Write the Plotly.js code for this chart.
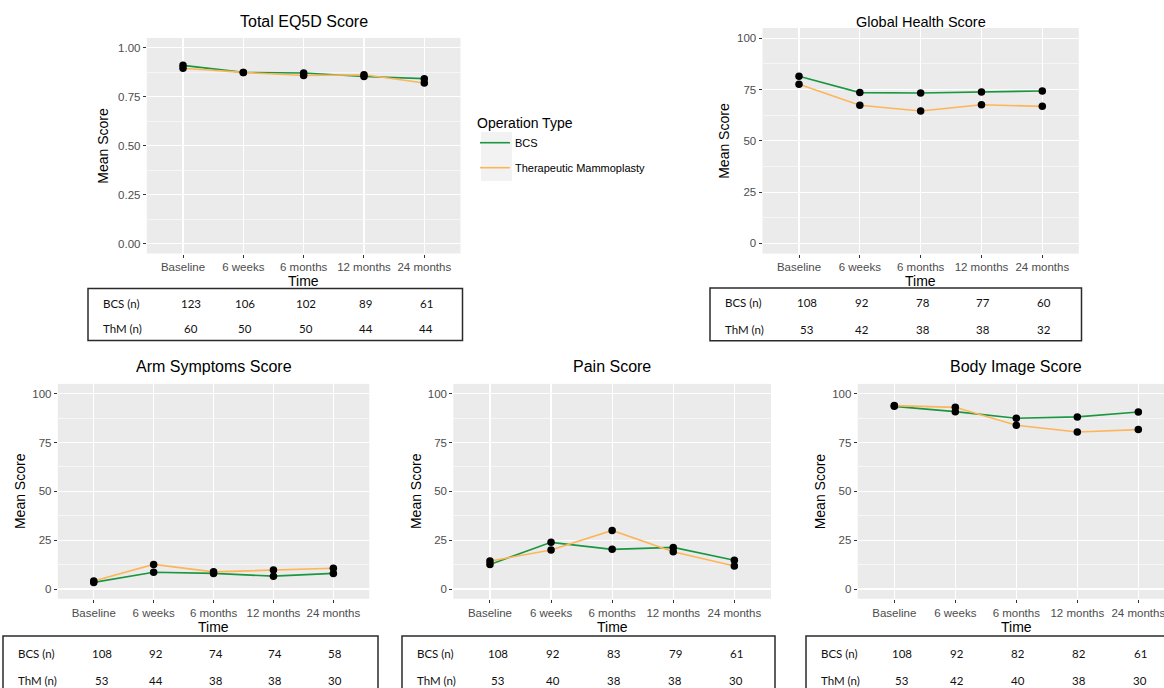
<!DOCTYPE html>
<html>
<head>
<meta charset="utf-8">
<script src="https://cdn.plot.ly/plotly-3.0.1.min.js"></script>
<style>
  html, body { margin: 0; padding: 0; background: #fff; overflow: hidden; }
  #chart { width: 1164px; height: 688px; }
</style>
</head>
<body>
<div id="chart"></div>
<script>
// ---------------- DATA ----------------
const categories = ['Baseline', '6 weeks', '6 months', '12 months', '24 months'];
const seriesNames = ['BCS', 'Therapeutic Mammoplasty'];
const rowLabels = ['BCS (n)', 'ThM (n)'];
const panelTitles = ['Total EQ5D Score', 'Global Health Score', 'Arm Symptoms Score', 'Pain Score', 'Body Image Score'];

const eq5dBCS = [0.910, 0.874, 0.871, 0.853, 0.842];
const eq5dThM = [0.895, 0.874, 0.858, 0.862, 0.820];
const globalBCS = [81.5, 73.5, 73.3, 73.8, 74.3];
const globalThM = [77.6, 67.3, 64.5, 67.6, 66.8];
const armBCS = [3.4, 8.6, 8.0, 6.6, 8.0];
const armThM = [4.1, 12.6, 8.8, 9.7, 10.6];
const painBCS = [12.6, 23.9, 20.3, 21.3, 14.7];
const painThM = [14.3, 20.0, 30.0, 19.1, 11.8];
const bodyBCS = [93.5, 90.8, 87.4, 88.1, 90.6];
const bodyThM = [93.9, 93.0, 83.8, 80.4, 81.6];

const eq5dN_BCS = [123, 106, 102, 89, 61];
const eq5dN_ThM = [60, 50, 50, 44, 44];
const globalN_BCS = [108, 92, 78, 77, 60];
const globalN_ThM = [53, 42, 38, 38, 32];
const armN_BCS = [108, 92, 74, 74, 58];
const armN_ThM = [53, 44, 38, 38, 30];
const painN_BCS = [108, 92, 83, 79, 61];
const painN_ThM = [53, 40, 38, 38, 30];
const bodyN_BCS = [108, 92, 82, 82, 61];
const bodyN_ThM = [53, 42, 40, 38, 30];

// ---------------- STYLE / GEOMETRY ----------------
const W = 1164, H = 688;
const px = x => x / W;
const py = y => (H - y) / H;
const GREEN = '#1a9641';
const ORANGE = '#fdb55a';
const FONT = 'Liberation Sans, Arial, sans-serif';
const TABLE_FONT = 'Lato, Open Sans, sans-serif';

const panels = [
  { bcs: eq5dBCS, thm: eq5dThM, nB: eq5dN_BCS, nT: eq5dN_ThM, title: panelTitles[0],
    x0: 146.8, x1: 460.5, xr: [-0.6, 4.6], yTop: 37.9, yBot: 253.5, yr: [-0.05, 1.05], dtick: 0.25, fmt: '.2f',
    titleY: 22, titleSize: 16, meanX: 103, timeY: 281,
    tb: { x0: 88, x1: 462.5, y0: 288.5, y1: 340.5, rows: [303, 328] } },
  { bcs: globalBCS, thm: globalThM, nB: globalN_BCS, nT: globalN_ThM, title: panelTitles[1],
    x0: 762.5, x1: 1078.8, xr: [-0.6, 4.6], yTop: 28, yBot: 253.6, yr: [-5, 105], dtick: 25, fmt: 'd',
    titleY: 22, titleSize: 14.5, meanX: 724, timeY: 281,
    tb: { x0: 710, x1: 1081.5, y0: 288, y1: 340.7, rows: [302, 329] } },
  { bcs: armBCS, thm: armThM, nB: armN_BCS, nT: armN_ThM, title: panelTitles[2],
    x0: 57.8, x1: 369.3, xr: [-0.6, 4.6], yTop: 383.9, yBot: 598.8, yr: [-5, 105], dtick: 25, fmt: 'd',
    titleY: 367, titleSize: 16, meanX: 20.7, timeY: 626.7,
    tb: { x0: 3, x1: 378, y0: 636, y1: 700, rows: [653.5, 680] } },
  { bcs: painBCS, thm: painThM, nB: painN_BCS, nT: painN_ThM, title: panelTitles[3],
    x0: 453.3, x1: 771, xr: [-0.6, 4.6], yTop: 383.9, yBot: 598.8, yr: [-5, 105], dtick: 25, fmt: 'd',
    titleY: 367, titleSize: 16, meanX: 416.7, timeY: 626.7,
    tb: { x0: 402, x1: 775, y0: 636, y1: 700, rows: [653.5, 680] } },
  { bcs: bodyBCS, thm: bodyThM, nB: bodyN_BCS, nT: bodyN_ThM, title: panelTitles[4],
    x0: 857.7, x1: 1164, xr: [-0.6, 4.421], yTop: 383.9, yBot: 598.8, yr: [-5, 105], dtick: 25, fmt: 'd',
    titleY: 367, titleSize: 16, meanX: 820, timeY: 626.7,
    tb: { x0: 806, x1: 1175, y0: 636, y1: 700, rows: [653.5, 680] } }
];

const traces = [];
const layout = {
  width: W, height: H,
  margin: { l: 0, r: 0, t: 0, b: 0, pad: 0 },
  paper_bgcolor: '#ffffff',
  plot_bgcolor: '#ebebeb',
  font: { family: FONT, color: '#000' },
  showlegend: true,
  legend: {
    title: { text: 'Operation Type', font: { size: 14, color: '#000', family: FONT } },
    x: px(475), y: py(110), xanchor: 'left', yanchor: 'top',
    font: { size: 11, color: '#000', family: FONT },
    bgcolor: 'rgba(0,0,0,0)', borderwidth: 0, tracegroupgap: 6,
    itemwidth: 30
  },
  shapes: [],
  annotations: []
};

panels.forEach((p, k) => {
  const s = k === 0 ? '' : String(k + 1);
  const xa = 'x' + s, ya = 'y' + s;
  // lines
  [p.bcs, p.thm].forEach((vals, j) => {
    traces.push({
      type: 'scatter', mode: 'lines', x: categories, y: vals, xaxis: xa, yaxis: ya,
      name: seriesNames[j], legendgroup: seriesNames[j], showlegend: k === 0,
      line: { color: j === 0 ? GREEN : ORANGE, width: 1.6 },
      hoverinfo: 'skip'
    });
  });
  // points on top
  [p.bcs, p.thm].forEach((vals, j) => {
    traces.push({
      type: 'scatter', mode: 'markers', x: categories, y: vals, xaxis: xa, yaxis: ya,
      name: seriesNames[j], showlegend: false,
      marker: { color: '#000', size: 7.5 }
    });
  });
  layout['xaxis' + s] = {
    domain: [px(p.x0), px(p.x1)], anchor: ya, type: 'category',
    categoryorder: 'array', categoryarray: categories, range: p.xr,
    showgrid: true, gridcolor: '#ffffff', gridwidth: 1.1, zeroline: false, showline: false,
    ticks: 'outside', ticklen: 3, tickcolor: '#333333', tickwidth: 1,
    tickfont: { size: 11.5, color: '#4d4d4d', family: FONT }, fixedrange: true
  };
  layout['yaxis' + s] = {
    domain: [py(p.yBot), py(p.yTop)], anchor: xa, range: p.yr,
    tick0: 0, dtick: p.dtick, tickformat: p.fmt,
    showgrid: true, gridcolor: '#ffffff', gridwidth: 1.1, zeroline: false, showline: false,
    ticks: 'outside', ticklen: 3, tickcolor: '#333333', tickwidth: 1,
    tickfont: { size: 11.5, color: '#4d4d4d', family: FONT },
    minor: { dtick: p.dtick / 2, tick0: 0, showgrid: true, gridcolor: '#ffffff', gridwidth: 0.55, ticks: '' },
    fixedrange: true
  };
  // centre of the category span
  const cx = p.x0 + (2 - p.xr[0]) / (p.xr[1] - p.xr[0]) * (p.x1 - p.x0);
  layout.annotations.push({
    text: p.title, xref: 'paper', yref: 'paper', x: px(cx), y: py(p.titleY),
    xanchor: 'center', yanchor: 'middle', showarrow: false,
    font: { size: p.titleSize, color: '#000', family: FONT }
  });
  layout.annotations.push({
    text: 'Time', xref: 'paper', yref: 'paper', x: px(cx), y: py(p.timeY),
    xanchor: 'center', yanchor: 'middle', showarrow: false,
    font: { size: 14, color: '#000', family: FONT }
  });
  layout.annotations.push({
    text: 'Mean Score', xref: 'paper', yref: 'paper', x: px(p.meanX), y: py((p.yTop + p.yBot) / 2),
    xanchor: 'center', yanchor: 'middle', textangle: -90, showarrow: false,
    font: { size: 14, color: '#000', family: FONT }
  });
  // n-table
  const t = p.tb;
  layout.shapes.push({
    type: 'rect', xref: 'paper', yref: 'paper', x0: px(t.x0), x1: px(t.x1), y0: py(t.y1), y1: py(t.y0),
    line: { color: '#2b2b2b', width: 1.5 }, fillcolor: 'rgba(0,0,0,0)'
  });
  [p.nB, p.nT].forEach((row, r) => {
    layout.annotations.push({
      text: rowLabels[r], xref: 'paper', yref: 'paper', x: px(t.x0 + 13), y: py(t.rows[r]),
      xanchor: 'left', yanchor: 'middle', showarrow: false,
      font: { size: 11.5, color: '#111', family: TABLE_FONT }
    });
    row.forEach((v, i) => {
      layout.annotations.push({
        text: String(v), xref: xa, yref: 'paper', x: categories[i], y: py(t.rows[r]),
        xshift: i === 0 ? 8 : 2,
        xanchor: 'center', yanchor: 'middle', showarrow: false,
        font: { size: 11.5, color: '#111', family: TABLE_FONT }
      });
    });
  });
});

// grey legend key backgrounds (ggplot style)
layout.shapes.push({
  type: 'rect', xref: 'paper', yref: 'paper', layer: 'below',
  x0: px(481), x1: px(512), y0: py(181), y1: py(132),
  line: { width: 0 }, fillcolor: '#f2f2f2'
});

Plotly.newPlot('chart', traces, layout, { displayModeBar: false, staticPlot: true });
</script>
</body>
</html>
